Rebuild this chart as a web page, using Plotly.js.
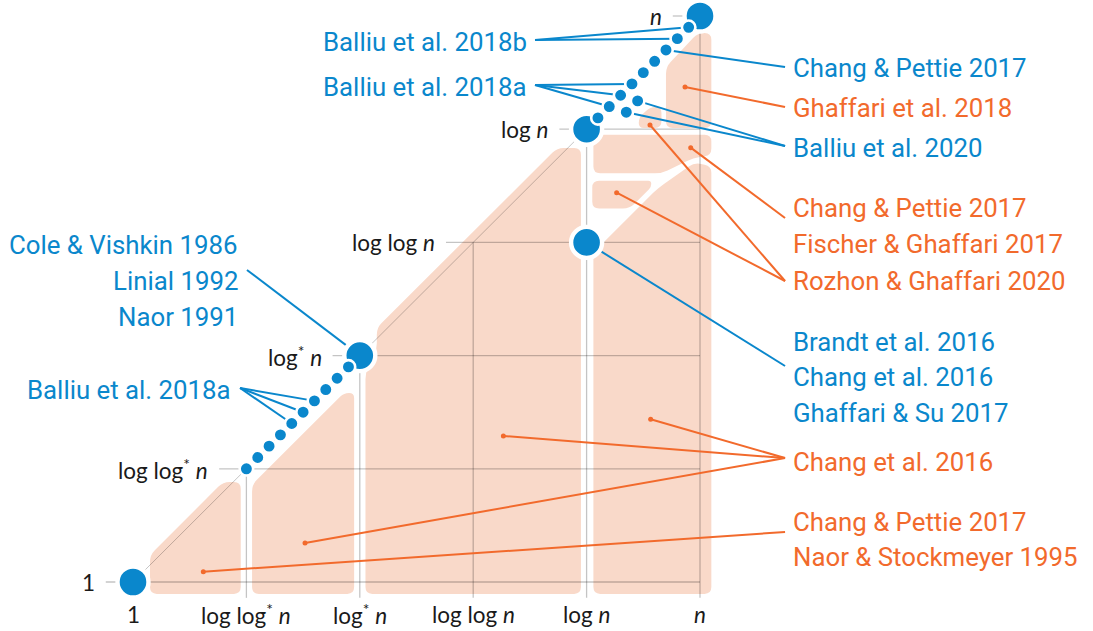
<!DOCTYPE html>
<html><head><meta charset="utf-8">
<script src="https://cdn.plot.ly/plotly-3.0.1.min.js"></script>
<style>html,body{margin:0;padding:0;background:#fff}#chart{width:1093px;height:631px}</style>
</head><body><div id="chart"></div>
<script>
// ---- data ----
const tickValues = [0, 1, 2, 3, 4, 5];
const tickLabels = ['1', 'log log<sup>*</sup> <i>n</i>', 'log<sup>*</sup> <i>n</i>', 'log log <i>n</i>', 'log <i>n</i>', '<i>n</i>'];

// big complexity classes (x = lower bound class, y = upper bound class)
const bigDotX = [0, 2, 4, 5, 4];
const bigDotY = [0, 2, 4, 5, 3];
// dense sequences of classes
const lowDotX = [1.0, 1.1, 1.2, 1.3, 1.4, 1.5, 1.6, 1.7, 1.8, 1.9];
const highDotX = [4.1, 4.2, 4.3, 4.4, 4.5, 4.6, 4.7, 4.8, 4.9];
const offDotX = [4.45, 4.35];
const offDotY = [4.25, 4.15];

// regions of the landscape (polygon corners)
const regionA = [[0.15,-0.105],[0.95,-0.105],[0.95,0.883],[0.794,0.883],[0.15,0.239]];
const regionB = [[1.05,-0.105],[1.95,-0.105],[1.95,1.67],[1.86,1.67],[1.05,0.86]];
const regionC = [[2.05,-0.105],[3.95,-0.105],[3.95,3.835],[3.74,3.835],[2.15,2.245],[2.15,2.05],[2.05,1.85]];
const regionD = [[4.06,-0.105],[5.1,-0.105],[5.1,3.675],[4.95,3.705],[4.63,3.48],[4.06,2.91]];
const regionE = [[4.06,3.95],[5.1,3.95],[5.1,3.77],[4.94,3.745],[4.66,3.61],[4.06,3.61]];
const regionF = [[4.05,3.545],[4.57,3.545],[4.57,3.49],[4.38,3.30],[4.05,3.30]];
const regionG = [[4.70,4.01],[5.1,4.01],[5.1,4.85],[4.98,4.85],[4.70,4.55]];
const regionH = [[4.46,4.01],[4.66,4.01],[4.66,4.196],[4.56,4.196],[4.46,4.10]];
const regions = [regionA, regionB, regionC, regionD, regionE, regionF, regionG, regionH];

// anchor points inside regions
const ptA = [0.62, 0.091], ptB = [1.517, 0.345], ptC = [3.266, 1.29], ptD = [4.565, 1.437];
const ptE = [4.918, 3.837], ptF = [4.265, 3.439], ptG = [4.868, 4.373], ptH = [4.559, 4.037];

// label texts
const rightLabels = [
  {t:'Chang & Pettie 2017', y:4.538, c:'blue'},
  {t:'Ghaffari et al. 2018', y:4.185, c:'orange'},
  {t:'Balliu et al. 2020', y:3.831, c:'blue'},
  {t:'Chang & Pettie 2017', y:3.301, c:'orange'},
  {t:'Fischer & Ghaffari 2017', y:2.986, c:'orange'},
  {t:'Rozhon & Ghaffari 2020', y:2.662, c:'orange'},
  {t:'Brandt et al. 2016', y:2.123, c:'blue'},
  {t:'Chang et al. 2016', y:1.808, c:'blue'},
  {t:'Ghaffari & Su 2017', y:1.490, c:'blue'},
  {t:'Chang et al. 2016', y:1.063, c:'orange'},
  {t:'Chang & Pettie 2017', y:0.533, c:'orange'},
  {t:'Naor & Stockmeyer 1995', y:0.2235, c:'orange'}
];
const leftLabels = [
  {t:'Cole & Vishkin 1986', x:0.944, y:2.977},
  {t:'Linial 1992', x:0.944, y:2.659},
  {t:'Naor 1991', x:0.944, y:2.344},
  {t:'Balliu et al. 2018a', x:0.882, y:1.696},
  {t:'Balliu et al. 2018b', x:3.492, y:4.773},
  {t:'Balliu et al. 2018a', x:3.492, y:4.375}
];

// leader lines: label end -> marked points
const blueLeaders = [
  {end:[5.75,4.549], pts:[[4.7,4.7]]},
  {end:[5.75,3.852], pts:[[offDotX[0],offDotY[0]],[offDotX[1],offDotY[1]]]},
  {end:[5.75,1.908], pts:[[4,3]]},
  {end:[1.005,2.756], pts:[[2,2]]},
  {end:[0.944,1.714], pts:[[1.4,1.4],[1.5,1.5],[1.6,1.6]]},
  {end:[3.545,4.39], pts:[[4.2,4.2],[4.3,4.3],[4.4,4.4]]},
  {end:[3.545,4.788], pts:[[4.8,4.8],[4.9,4.9]]}
];
const orangeLeaders = [
  {end:[5.75,4.196], pts:[ptG]},
  {end:[5.75,3.216], pts:[ptE]},
  {end:[5.75,2.659], pts:[ptH, ptF]},
  {end:[5.75,1.095], pts:[ptD, ptC, ptB]},
  {end:[5.75,0.442], pts:[ptA]}
];

// ---- styling ----
const BLUE = '#0a87cc';
const ORANGE = '#f26a2c';
const PEACH = '#f9d9c9';
const GRID = 'rgba(0,0,0,0.23)';
const colorOf = c => c === 'blue' ? BLUE : ORANGE;

function roundedPath(pts, r) {
  let d = '';
  const n = pts.length;
  for (let i = 0; i < n; i++) {
    const p = pts[(i - 1 + n) % n], c = pts[i], q = pts[(i + 1) % n];
    const l1 = Math.hypot(p[0] - c[0], p[1] - c[1]);
    const l2 = Math.hypot(q[0] - c[0], q[1] - c[1]);
    const rr = Math.min(r, l1 / 2, l2 / 2);
    const a = [c[0] + (p[0] - c[0]) * rr / l1, c[1] + (p[1] - c[1]) * rr / l1];
    const b = [c[0] + (q[0] - c[0]) * rr / l2, c[1] + (q[1] - c[1]) * rr / l2];
    d += (i === 0 ? 'M' : 'L') + a[0] + ',' + a[1] + ' Q' + c[0] + ',' + c[1] + ' ' + b[0] + ',' + b[1] + ' ';
  }
  return d + 'Z';
}

const shapes = [];
regions.forEach(reg => shapes.push({type:'path', path: roundedPath(reg, 0.06), xref:'x', yref:'y',
  fillcolor: PEACH, line:{width:0}, layer:'below'}));
// horizontal grid lines
tickValues.forEach(v => shapes.push({type:'line', xref:'x', yref:'y', x0: v - 0.24, x1: 5, y0: v, y1: v,
  line:{color: GRID, width: 1.3}, layer:'below'}));
// vertical grid lines
tickValues.forEach(u => shapes.push({type:'line', xref:'x', yref:'y', x0: u, x1: u, y0: -0.14, y1: u,
  line:{color: GRID, width: 1.3}, layer:'below'}));
// diagonal
shapes.push({type:'line', xref:'x', yref:'y', x0: tickValues[0], y0: tickValues[0], x1: tickValues[5], y1: tickValues[5],
  line:{color: GRID, width: 1}, layer:'below'});

function leaderTrace(list, color) {
  const x = [], y = [];
  list.forEach(L => L.pts.forEach(p => { x.push(L.end[0], p[0], null); y.push(L.end[1], p[1], null); }));
  return {type:'scatter', mode:'lines', x, y, line:{color, width:2}, hoverinfo:'skip', showlegend:false};
}

const orangePts = [ptA, ptB, ptC, ptD, ptE, ptF, ptG, ptH];
const traces = [
  leaderTrace(orangeLeaders, ORANGE),
  leaderTrace(blueLeaders, BLUE),
  {type:'scatter', mode:'markers', x: orangePts.map(p => p[0]), y: orangePts.map(p => p[1]),
    marker:{color: ORANGE, size: 5}, hoverinfo:'skip', showlegend:false},
  {type:'scatter', mode:'markers', x: bigDotX, y: bigDotY,
    marker:{color: BLUE, size: 31, line:{color:'#fff', width: 4.4}}, hoverinfo:'skip', showlegend:false},
  {type:'scatter', mode:'markers', x: lowDotX.concat(highDotX, offDotX), y: lowDotX.concat(highDotX, offDotY),
    marker:{color: BLUE, size: 13.5, line:{color:'#fff', width: 2.6}}, hoverinfo:'skip', showlegend:false}
];

const annotations = [];
const LABEL_FONT = 'Roboto, sans-serif';
const TICK_FONT = 'Lato, sans-serif';
rightLabels.forEach(L => annotations.push({x: 5.80, y: L.y, xref:'x', yref:'y', text: L.t, showarrow:false,
  xanchor:'left', yanchor:'middle', font:{family: LABEL_FONT, size: 25.8, color: colorOf(L.c)}}));
leftLabels.forEach(L => annotations.push({x: L.x, y: L.y, xref:'x', yref:'y', text: L.t, showarrow:false,
  xanchor:'right', yanchor:'middle', font:{family: LABEL_FONT, size: 25.8, color: BLUE}}));
tickValues.forEach((v, i) => {
  annotations.push({x: v - 0.32, y: v, xref:'x', yref:'y', text: tickLabels[i], showarrow:false,
    xanchor:'right', yanchor:'middle', font:{family: TICK_FONT, size: 22.5, color:'#1a1a1a'}});
  annotations.push({x: v, y: -0.283, xref:'x', yref:'y', text: tickLabels[i], showarrow:false,
    xanchor:'center', yanchor:'middle', font:{family: TICK_FONT, size: 22.5, color:'#1a1a1a'}});
});

const layout = {
  width: 1093, height: 631,
  margin:{l:0, r:0, t:0, b:0},
  paper_bgcolor:'#fff', plot_bgcolor:'#fff',
  xaxis:{range:[-1.17284, 8.46561], visible:false, fixedrange:true},
  yaxis:{range:[-0.43286, 5.14134], visible:false, fixedrange:true},
  shapes, annotations, showlegend:false
};
Plotly.newPlot('chart', traces, layout, {staticPlot:true, displayModeBar:false});
</script>
</body></html>
